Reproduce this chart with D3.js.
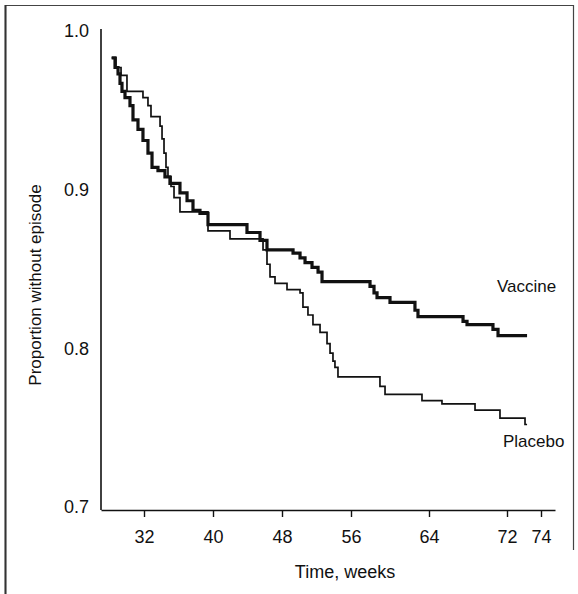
<!DOCTYPE html>
<html>
<head>
<meta charset="utf-8">
<script src="https://cdn.jsdelivr.net/npm/d3@7"></script>
<style>
  body { margin: 0; background: #fff; }
  svg { display: block; }
  text { font-family: "Liberation Sans", Arial, sans-serif; fill: #111; }
</style>
</head>
<body>
<div id="chart"></div>
<script>
// survival curves, week -> proportion (step after)
var vaccineWeeks = [28.24, 28.63, 28.98, 29.21, 29.44, 29.79, 30.37, 30.72, 31.30, 31.88,
    32.46, 32.93, 33.62, 34.43, 35.01, 36.17, 36.99, 37.68, 38.49, 39.42,
    43.94, 45.45, 46.26, 49.28, 50.09, 50.67, 51.48, 52.18, 52.64, 57.95,
    58.36, 58.67, 60.00, 62.56, 62.87, 67.49, 67.90, 70.56, 71.08, 73.18];
var vaccineValues = [0.983, 0.977, 0.973, 0.967, 0.962, 0.958, 0.953, 0.944, 0.938, 0.931,
    0.923, 0.914, 0.912, 0.908, 0.904, 0.898, 0.893, 0.887, 0.885, 0.878,
    0.873, 0.868, 0.862, 0.860, 0.857, 0.854, 0.851, 0.848, 0.842, 0.839,
    0.835, 0.832, 0.829, 0.824, 0.820, 0.817, 0.815, 0.812, 0.808, 0.808];

var placeboWeeks = [28.24, 28.74, 29.33, 30.02, 31.88, 32.46, 32.81, 33.86, 34.09, 34.32,
    34.55, 34.78, 35.13, 35.48, 36.17, 39.42, 41.97, 45.80, 46.26, 46.61,
    47.19, 48.58, 50.09, 50.43, 51.01, 51.59, 52.41, 53.22, 53.57, 53.91,
    54.14, 54.49, 58.97, 59.49, 63.28, 65.33, 68.72, 71.28, 73.06, 73.18];
var placeboValues = [0.983, 0.977, 0.972, 0.962, 0.958, 0.953, 0.946, 0.940, 0.932, 0.923,
    0.914, 0.908, 0.902, 0.895, 0.886, 0.874, 0.869, 0.862, 0.853, 0.845,
    0.841, 0.837, 0.835, 0.826, 0.821, 0.815, 0.810, 0.803, 0.797, 0.792,
    0.788, 0.782, 0.776, 0.771, 0.767, 0.765, 0.761, 0.756, 0.752, 0.752];

var xTicks = [32, 40, 48, 56, 64, 72, 74];
var yTicks = [0.7, 0.8, 0.9, 1.0];

var width = 578, height = 594;

var svg = d3.select("#chart").append("svg")
    .attr("width", width)
    .attr("height", height);

// outer frame of the figure panel
svg.append("path")
    .attr("d", "M5.5,594 L5.5,5.5 L573.5,5.5 L573.5,550")
    .attr("fill", "none")
    .attr("stroke", "#444")
    .attr("stroke-width", 1.2);
svg.append("line")
    .attr("x1", 5.5).attr("x2", 5.5).attr("y1", 5).attr("y2", 594)
    .attr("stroke", "#333").attr("stroke-width", 2);

// the printed axis is not evenly spaced, so the x scale is piecewise
var x = d3.scaleLinear()
    .domain([27, 32, 40, 48, 56, 64, 72, 74, 74.8])
    .range([101, 144, 213, 282, 351, 429, 507, 541, 555]);

var y = d3.scaleLinear()
    .domain([0.7, 1.0])
    .range([507, 31]);

var axisY = 510;

// x axis
var xAxis = d3.axisBottom(x)
    .tickValues(xTicks)
    .tickSize(7)
    .tickSizeOuter(0)
    .tickPadding(13)
    .tickFormat(d3.format("d"));

var gx = svg.append("g")
    .attr("transform", "translate(0," + axisY + ")")
    .call(xAxis);
gx.select(".domain").attr("stroke", "#111").attr("stroke-width", 1.6);
gx.selectAll(".tick line").attr("stroke", "#111").attr("stroke-width", 1.4);
gx.selectAll(".tick text")
    .attr("font-size", 18)
    .attr("font-family", "Liberation Sans, Arial, sans-serif")
    .attr("fill", "#111");

// y axis: plain line with labels, no tick marks
svg.append("line")
    .attr("x1", 101).attr("x2", 101)
    .attr("y1", 29).attr("y2", axisY)
    .attr("stroke", "#111").attr("stroke-width", 1.6);

svg.selectAll(".ylab")
    .data(yTicks)
    .enter().append("text")
    .attr("class", "ylab")
    .attr("x", 89)
    .attr("y", function (d) { return y(d); })
    .attr("dy", "0.36em")
    .attr("text-anchor", "end")
    .attr("font-size", 18)
    .text(function (d) { return d3.format(".1f")(d); });

// axis titles
svg.append("text")
    .attr("x", 345)
    .attr("y", 578)
    .attr("text-anchor", "middle")
    .attr("font-size", 18)
    .text("Time, weeks");

svg.append("text")
    .attr("transform", "translate(41,285) rotate(-90)")
    .attr("text-anchor", "middle")
    .attr("font-size", 17)
    .text("Proportion without episode");

// curves
var line = d3.line()
    .x(function (d) { return x(d[0]); })
    .y(function (d) { return y(d[1]); })
    .curve(d3.curveStepAfter);

var placebo = d3.zip(placeboWeeks, placeboValues);
var vaccine = d3.zip(vaccineWeeks, vaccineValues);

svg.append("path")
    .datum(placebo)
    .attr("d", line)
    .attr("fill", "none")
    .attr("stroke", "#111")
    .attr("stroke-width", 1.7);

svg.append("path")
    .datum(vaccine)
    .attr("d", line)
    .attr("fill", "none")
    .attr("stroke", "#111")
    .attr("stroke-width", 3.2);

// series labels
svg.append("text")
    .attr("x", 497)
    .attr("y", 286)
    .attr("dy", "0.36em")
    .attr("font-size", 17)
    .text("Vaccine");

svg.append("text")
    .attr("x", 503)
    .attr("y", 441)
    .attr("dy", "0.36em")
    .attr("font-size", 17)
    .text("Placebo");
</script>
</body>
</html>
